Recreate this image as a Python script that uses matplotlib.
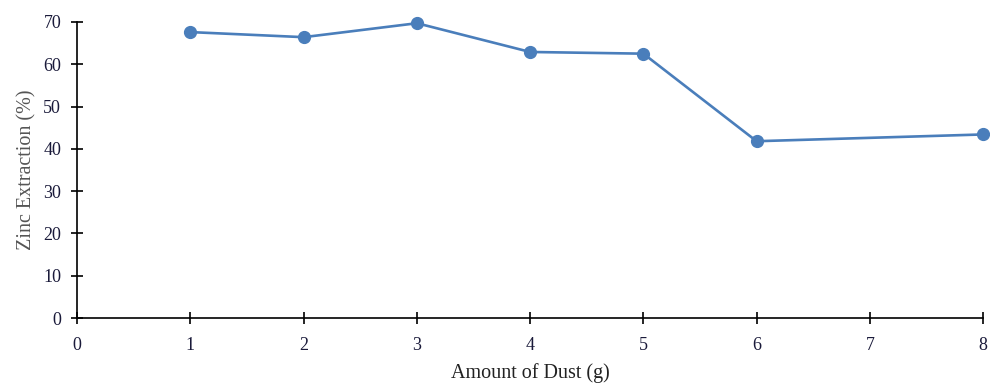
import matplotlib
matplotlib.use('Agg')
import matplotlib.pyplot as plt

plt.rcParams['font.family'] = ['Liberation Serif', 'DejaVu Serif']

dust = [1, 2, 3, 4, 5, 6, 8]
extraction = [67.6, 66.4, 69.7, 62.9, 62.5, 41.8, 43.4]
x_ticks = [0, 1, 2, 3, 4, 5, 6, 7, 8]
y_ticks = [0, 10, 20, 30, 40, 50, 60, 70]

fig = plt.figure(figsize=(9.9, 3.85), dpi=100)
ax = fig.add_axes([0.078, 0.174, 0.915, 0.769])

ax.plot(dust, extraction, color='#4a7ebb', linewidth=1.9, marker='o',
        markersize=8.5, clip_on=False, zorder=3)

ax.set_xlim(0, 8)
ax.set_ylim(0, 70)
ax.set_xticks(x_ticks)
ax.set_yticks(y_ticks)
ax.tick_params(direction='inout', length=9, width=1.2, labelsize=13,
               labelcolor='#1a1a3a')
ax.tick_params(axis='y', pad=7)
ax.tick_params(axis='x', pad=9)
for side in ['top', 'right']:
    ax.spines[side].set_visible(False)
for side in ['left', 'bottom']:
    ax.spines[side].set_linewidth(1.2)

ax.set_xlabel('Amount of Dust (g)', fontsize=14.5, color='#222222', labelpad=7)
ax.set_ylabel('Zinc Extraction (%)', fontsize=14.5, color='#555555', labelpad=5)

fig.savefig('out.png', dpi=100)
